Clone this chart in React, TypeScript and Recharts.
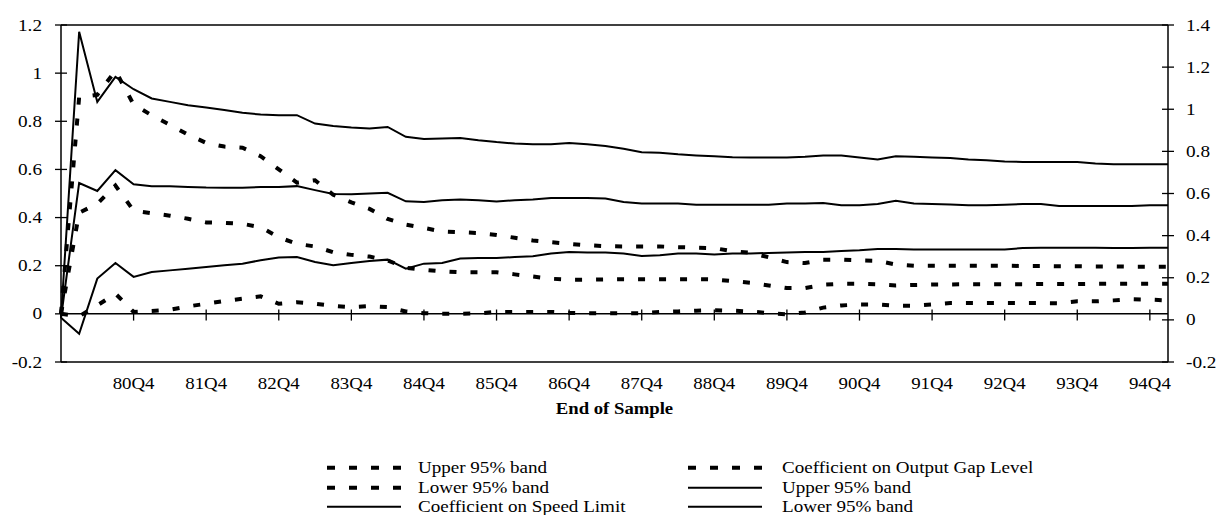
import { LineChart, Line, XAxis, YAxis, ReferenceLine, Legend, Label } from 'recharts'

// quarterly end-of-sample dates, 79Q4 .. 95Q1
const quarters = [
  '79Q4',
  '80Q1', '80Q2', '80Q3', '80Q4', '81Q1', '81Q2', '81Q3', '81Q4',
  '82Q1', '82Q2', '82Q3', '82Q4', '83Q1', '83Q2', '83Q3', '83Q4',
  '84Q1', '84Q2', '84Q3', '84Q4', '85Q1', '85Q2', '85Q3', '85Q4',
  '86Q1', '86Q2', '86Q3', '86Q4', '87Q1', '87Q2', '87Q3', '87Q4',
  '88Q1', '88Q2', '88Q3', '88Q4', '89Q1', '89Q2', '89Q3', '89Q4',
  '90Q1', '90Q2', '90Q3', '90Q4', '91Q1', '91Q2', '91Q3', '91Q4',
  '92Q1', '92Q2', '92Q3', '92Q4', '93Q1', '93Q2', '93Q3', '93Q4',
  '94Q1', '94Q2', '94Q3', '94Q4', '95Q1',
]

const tickLabels = [
  '80Q4', '81Q4', '82Q4', '83Q4', '84Q4', '85Q4', '86Q4', '87Q4',
  '88Q4', '89Q4', '90Q4', '91Q4', '92Q4', '93Q4', '94Q4',
]

const leftTicks = [-0.2, 0, 0.2, 0.4, 0.6, 0.8, 1, 1.2]
const rightTicks = [-0.2, 0, 0.2, 0.4, 0.6, 0.8, 1, 1.2, 1.4]

// output gap level coefficient and its band (left axis, dashed)
const gapUpper = [
  0, 0.9, 0.91, 1.01, 0.87, 0.825, 0.785, 0.745, 0.71, 0.695,
  0.69, 0.655, 0.6, 0.545, 0.555, 0.495, 0.463, 0.436, 0.394, 0.371,
  0.357, 0.342, 0.339, 0.336, 0.328, 0.316, 0.305, 0.298, 0.291, 0.285,
  0.281, 0.28, 0.28, 0.28, 0.277, 0.275, 0.273, 0.26, 0.254, 0.235,
  0.215, 0.211, 0.225, 0.225, 0.222, 0.22, 0.205, 0.2, 0.2, 0.2,
  0.2, 0.2, 0.2, 0.199, 0.199, 0.198, 0.198, 0.197, 0.197, 0.196,
  0.196, 0.196,
]
const gapCoef = [
  0, 0.42, 0.457, 0.533, 0.429, 0.418, 0.408, 0.395, 0.38, 0.378,
  0.374, 0.36, 0.318, 0.291, 0.28, 0.256, 0.245, 0.238, 0.222, 0.191,
  0.183, 0.177, 0.173, 0.173, 0.173, 0.164, 0.155, 0.146, 0.142, 0.142,
  0.143, 0.144, 0.144, 0.144, 0.144, 0.144, 0.143, 0.136, 0.129, 0.118,
  0.107, 0.107, 0.121, 0.125, 0.125, 0.123, 0.118, 0.12, 0.122, 0.122,
  0.123, 0.123, 0.123, 0.123, 0.124, 0.124, 0.124, 0.125, 0.125, 0.125,
  0.125, 0.125,
]
const gapLower = [
  0, -0.01, 0.035, 0.084, 0.008, 0.012, 0.017, 0.031, 0.042, 0.053,
  0.063, 0.073, 0.042, 0.048, 0.042, 0.033, 0.028, 0.032, 0.028, 0.01,
  0.003, 0, 0, 0.002, 0.008, 0.008, 0.008, 0.008, 0.004, 0.003,
  0.003, 0.003, 0.003, 0.008, 0.01, 0.013, 0.015, 0.013, 0.01, 0.003,
  -0.002, 0.006, 0.026, 0.035, 0.039, 0.039, 0.034, 0.034, 0.039, 0.045,
  0.045, 0.045, 0.045, 0.045, 0.045, 0.044, 0.052, 0.052, 0.056, 0.061,
  0.059, 0.056,
]

// speed limit coefficient and its band (right axis, solid)
const speedUpper = [
  0.01, 1.368, 1.035, 1.154, 1.095, 1.051, 1.035, 1.019, 1.008, 0.996,
  0.983, 0.975, 0.972, 0.972, 0.932, 0.92, 0.913, 0.909, 0.916, 0.869,
  0.859, 0.861, 0.864, 0.853, 0.844, 0.837, 0.834, 0.834, 0.84, 0.834,
  0.825, 0.812, 0.796, 0.793, 0.786, 0.781, 0.777, 0.772, 0.771, 0.771,
  0.771, 0.774, 0.78, 0.78, 0.771, 0.761, 0.777, 0.774, 0.771, 0.769,
  0.761, 0.758, 0.752, 0.75, 0.75, 0.75, 0.75, 0.742, 0.739, 0.739,
  0.739, 0.739,
]
const speedCoef = [
  0.01, 0.65, 0.612, 0.711, 0.644, 0.635, 0.635, 0.631, 0.628, 0.627,
  0.627, 0.631, 0.631, 0.635, 0.616, 0.598, 0.596, 0.6, 0.603, 0.563,
  0.56, 0.568, 0.571, 0.568, 0.562, 0.568, 0.571, 0.579, 0.579, 0.579,
  0.576, 0.56, 0.552, 0.552, 0.552, 0.547, 0.547, 0.547, 0.547, 0.547,
  0.552, 0.552, 0.555, 0.544, 0.544, 0.55, 0.565, 0.552, 0.55, 0.548,
  0.544, 0.544, 0.547, 0.55, 0.55, 0.541, 0.541, 0.541, 0.541, 0.541,
  0.544, 0.544,
]
const speedLower = [
  0.01, -0.066, 0.196, 0.27, 0.204, 0.227, 0.235, 0.243, 0.251, 0.259,
  0.267, 0.283, 0.296, 0.298, 0.275, 0.259, 0.27, 0.279, 0.286, 0.243,
  0.267, 0.27, 0.291, 0.294, 0.294, 0.298, 0.302, 0.315, 0.322, 0.32,
  0.32, 0.315, 0.303, 0.307, 0.315, 0.315, 0.31, 0.315, 0.315, 0.318,
  0.32, 0.322, 0.322, 0.327, 0.33, 0.337, 0.337, 0.334, 0.334, 0.334,
  0.334, 0.334, 0.334, 0.341, 0.343, 0.343, 0.343, 0.342, 0.341, 0.341,
  0.342, 0.343,
]

// legend entries in the order they appear (column by column)
const legendNames = [
  'Upper 95% band',
  'Lower 95% band',
  'Coefficient on Speed Limit',
  'Coefficient on Output Gap Level',
  'Upper 95% band',
  'Lower 95% band',
]
const legendDashed = [true, true, false, true, false, false]

const rows = quarters.map((q, i) => ({
  q,
  gapUpper: gapUpper[i],
  gapLower: gapLower[i],
  speedCoef: speedCoef[i],
  gapCoef: gapCoef[i],
  speedUpper: speedUpper[i],
  speedLower: speedLower[i],
}))

const FONT = '"Liberation Serif", "Times New Roman", serif'
const DASH = '7 14'

const XTick = ({ x, y, payload }: any) => {
  if (!tickLabels.includes(payload.value)) return <g />
  return (
    <text
      transform={`translate(${x},${y + 21}) scale(1.18,1)`}
      textAnchor="middle"
      dy="0.35em"
      fontFamily={FONT}
      fontSize={16}
      fill="#000"
    >
      {payload.value}
    </text>
  )
}

const LeftTick = ({ x, y, payload }: any) => (
  <g>
    <line x1={x + 8} x2={x + 14} y1={y} y2={y} stroke="#000" strokeWidth={1.3} />
    <text
      transform={`translate(${x - 11},${y}) scale(1.2,1)`}
      textAnchor="end"
      dy="0.35em"
      fontFamily={FONT}
      fontSize={16}
      fill="#000"
    >
      {String(payload.value)}
    </text>
  </g>
)

const RightTick = ({ x, y, payload }: any) => (
  <g>
    <line x1={x - 8} x2={x - 14} y1={y} y2={y} stroke="#000" strokeWidth={1.3} />
    <text
      transform={`translate(${x + 10},${y}) scale(1.2,1)`}
      textAnchor="start"
      dy="0.35em"
      fontFamily={FONT}
      fontSize={16}
      fill="#000"
    >
      {String(payload.value)}
    </text>
  </g>
)

const AxisTitle = ({ viewBox }: any) => {
  const { x, y, width, height } = viewBox
  return (
    <text
      transform={`translate(${x + width / 2},${y + height - 12}) scale(1.1,1)`}
      textAnchor="middle"
      dy="0.35em"
      fontFamily={FONT}
      fontSize={17}
      fontWeight="bold"
      fill="#000"
    >
      End of Sample
    </text>
  )
}

const renderLegend = () => (
  <div style={{ position: 'relative', width: 1216, height: 60, fontFamily: FONT, fontSize: 16 }}>
    {legendNames.map((name, i) => {
      const col = i < 3 ? 0 : 1
      const row = i % 3
      const swatchX = col === 0 ? 327 : 688
      const textX = col === 0 ? 418 : 782
      const dashed = legendDashed[i]
      return (
        <div key={i} style={{ position: 'absolute', left: 0, top: row * 19.5, height: 19.5, width: 1216 }}>
          <svg width={74} height={19.5} style={{ position: 'absolute', left: swatchX, top: 0 }}>
            <line
              x1={0}
              x2={74}
              y1={9.75}
              y2={9.75}
              stroke="#000"
              strokeWidth={dashed ? 4 : 2}
              strokeDasharray={dashed ? '8 14' : undefined}
            />
          </svg>
          <span
            style={{
              position: 'absolute',
              left: textX,
              top: 0,
              lineHeight: '19.5px',
              whiteSpace: 'nowrap',
              display: 'inline-block',
              transform: 'scaleX(1.19)',
              transformOrigin: 'left center',
              color: '#000',
            }}
          >
            {name}
          </span>
        </div>
      )
    })}
  </div>
)

export default function App() {
  return (
    <div style={{ width: 1216, height: 515, overflow: 'hidden' }}>
      <style>{'body { margin: 0; }'}</style>
      <LineChart
        width={1216}
        height={515}
        data={rows}
        margin={{ top: 25, right: 8, bottom: 25, left: 8 }}
      >
        <XAxis
          dataKey="q"
          interval={0}
          height={58}
          tickLine={false}
          tickSize={0}
          tickMargin={0}
          tick={<XTick />}
          axisLine={{ stroke: '#000', strokeWidth: 1.5 }}
        >
          <Label content={<AxisTitle />} />
        </XAxis>
        <YAxis
          yAxisId="left"
          domain={[-0.2, 1.2]}
          ticks={leftTicks}
          width={53}
          tickSize={6}
          tickMargin={2}
          tick={<LeftTick />}
          tickLine={{ stroke: '#000', strokeWidth: 1.3 }}
          axisLine={{ stroke: '#000', strokeWidth: 1.5 }}
          allowDataOverflow
        />
        <YAxis
          yAxisId="right"
          orientation="right"
          domain={[-0.2, 1.4]}
          ticks={rightTicks}
          width={40}
          tickSize={6}
          tickMargin={2}
          tick={<RightTick />}
          tickLine={{ stroke: '#000', strokeWidth: 1.3 }}
          axisLine={{ stroke: '#000', strokeWidth: 1.5 }}
          allowDataOverflow
        />
        <ReferenceLine yAxisId="left" y={1.2} stroke="#000" strokeWidth={1.5} />
        <ReferenceLine yAxisId="left" y={0} stroke="#000" strokeWidth={1.5} />
        {tickLabels.map((t) => (
          <ReferenceLine
            key={t}
            yAxisId="left"
            segment={[{ x: t, y: -0.028 }, { x: t, y: 0.018 }]}
            stroke="#000"
            strokeWidth={1.3}
          />
        ))}
        <Legend
          verticalAlign="bottom"
          height={70}
          content={renderLegend}
          wrapperStyle={{ top: 458, bottom: 'auto', left: 0, width: 1216 }}
        />
        <Line yAxisId="left" dataKey="gapUpper" name="Upper 95% band" type="linear" stroke="#000" strokeWidth={4} strokeDasharray={DASH} dot={false} activeDot={false} isAnimationActive={false} />
        <Line yAxisId="left" dataKey="gapLower" name="Lower 95% band" type="linear" stroke="#000" strokeWidth={4} strokeDasharray={DASH} dot={false} activeDot={false} isAnimationActive={false} />
        <Line yAxisId="right" dataKey="speedCoef" name="Coefficient on Speed Limit" type="linear" stroke="#000" strokeWidth={2} dot={false} activeDot={false} isAnimationActive={false} />
        <Line yAxisId="left" dataKey="gapCoef" name="Coefficient on Output Gap Level" type="linear" stroke="#000" strokeWidth={4} strokeDasharray={DASH} dot={false} activeDot={false} isAnimationActive={false} />
        <Line yAxisId="right" dataKey="speedUpper" name="Upper 95% band" type="linear" stroke="#000" strokeWidth={2} dot={false} activeDot={false} isAnimationActive={false} />
        <Line yAxisId="right" dataKey="speedLower" name="Lower 95% band" type="linear" stroke="#000" strokeWidth={2} dot={false} activeDot={false} isAnimationActive={false} />
      </LineChart>
    </div>
  )
}
